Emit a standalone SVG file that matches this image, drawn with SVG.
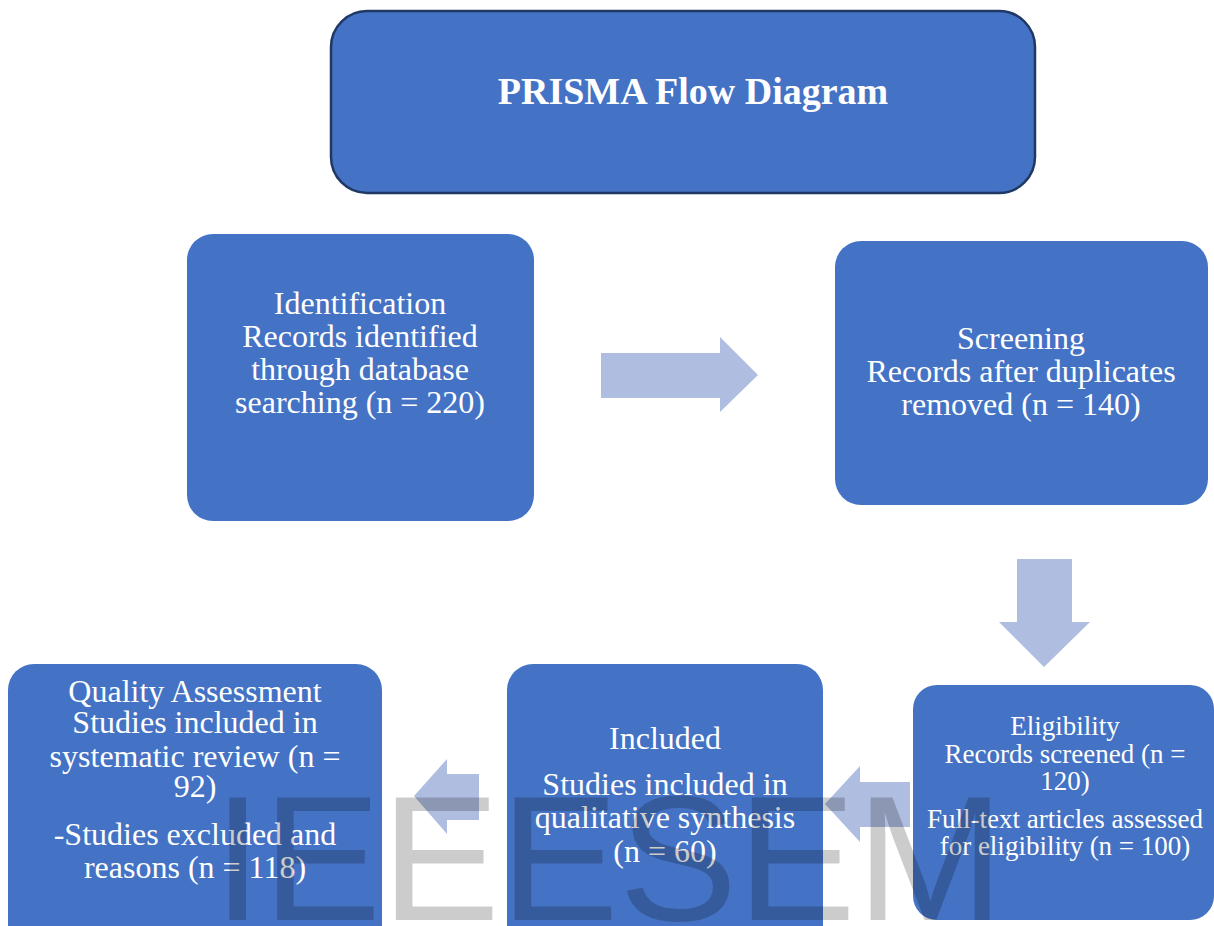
<svg xmlns="http://www.w3.org/2000/svg" width="1214" height="926" viewBox="0 0 1214 926">
<style>
.box{fill:#4472c4}
.t{fill:#ffffff;font-family:"Liberation Serif","Times New Roman",serif;text-anchor:middle}
.b30{font-size:32px}
.b26{font-size:27px}
.arr{fill:#afbde0}
.wm{fill:#000000;fill-opacity:0.2;font-family:"Liberation Sans",Arial,sans-serif;font-size:178px}
</style>
<rect width="1214" height="926" fill="#ffffff"/>
<g id="connectors">
<polygon class="arr" points="601,353 720,353 720,337 758,375 720,412 720,398 601,398"/>
<polygon class="arr" points="1017,559 1072,559 1072,622 1090,622 1044,667 999,622 1017,622"/>
<polygon class="arr" points="910,782 860,782 860,766 825,804 860,842 860,827 910,827"/>
<polygon class="arr" points="479,774 447,774 447,759 414,796 447,834 447,820 479,820"/>
</g>
<g id="title">
<rect x="331" y="11" width="704" height="182" rx="36" fill="#4472c4" stroke="#1f3864" stroke-width="2.5"/>
<text class="t" x="693" y="104" font-size="38" font-weight="bold">PRISMA Flow Diagram</text>
</g>
<g id="identification">
<rect class="box" x="187" y="234" width="347" height="287" rx="26"/>
<text class="t b30" x="360"><tspan x="360" y="314">Identification</tspan><tspan x="360" y="347">Records identified</tspan><tspan x="360" y="380">through database</tspan><tspan x="360" y="413">searching (n = 220)</tspan></text>
</g>
<g id="screening">
<rect class="box" x="835" y="241" width="373" height="264" rx="26"/>
<text class="t b30" x="1021"><tspan x="1021" y="349">Screening</tspan><tspan x="1021" y="382">Records after duplicates</tspan><tspan x="1021" y="415">removed (n = 140)</tspan></text>
</g>
<g id="eligibility">
<rect class="box" x="913" y="685" width="301" height="235" rx="24"/>
<text class="t b26" x="1065"><tspan x="1065" y="735">Eligibility</tspan><tspan x="1065" y="763">Records screened (n =</tspan><tspan x="1065" y="790">120)</tspan><tspan x="1065" y="828">Full-text articles assessed</tspan><tspan x="1065" y="855">for eligibility (n = 100)</tspan></text>
</g>
<g id="included">
<rect class="box" x="507" y="664" width="316" height="290" rx="26"/>
<text class="t b30" x="665"><tspan x="665" y="749">Included</tspan><tspan x="665" y="795">Studies included in</tspan><tspan x="665" y="828">qualitative synthesis</tspan><tspan x="665" y="862">(n = 60)</tspan></text>
</g>
<g id="quality">
<rect class="box" x="8" y="664" width="374" height="290" rx="26"/>
<text class="t b30" x="195"><tspan x="195" y="702">Quality Assessment</tspan><tspan x="195" y="733">Studies included in</tspan><tspan x="195" y="767">systematic review (n =</tspan><tspan x="195" y="797">92)</tspan><tspan x="195" y="845">-Studies excluded and</tspan><tspan x="195" y="878">reasons (n = 118)</tspan></text>
</g>
<text class="wm" x="213" y="920">IEEESEM</text>
</svg>
